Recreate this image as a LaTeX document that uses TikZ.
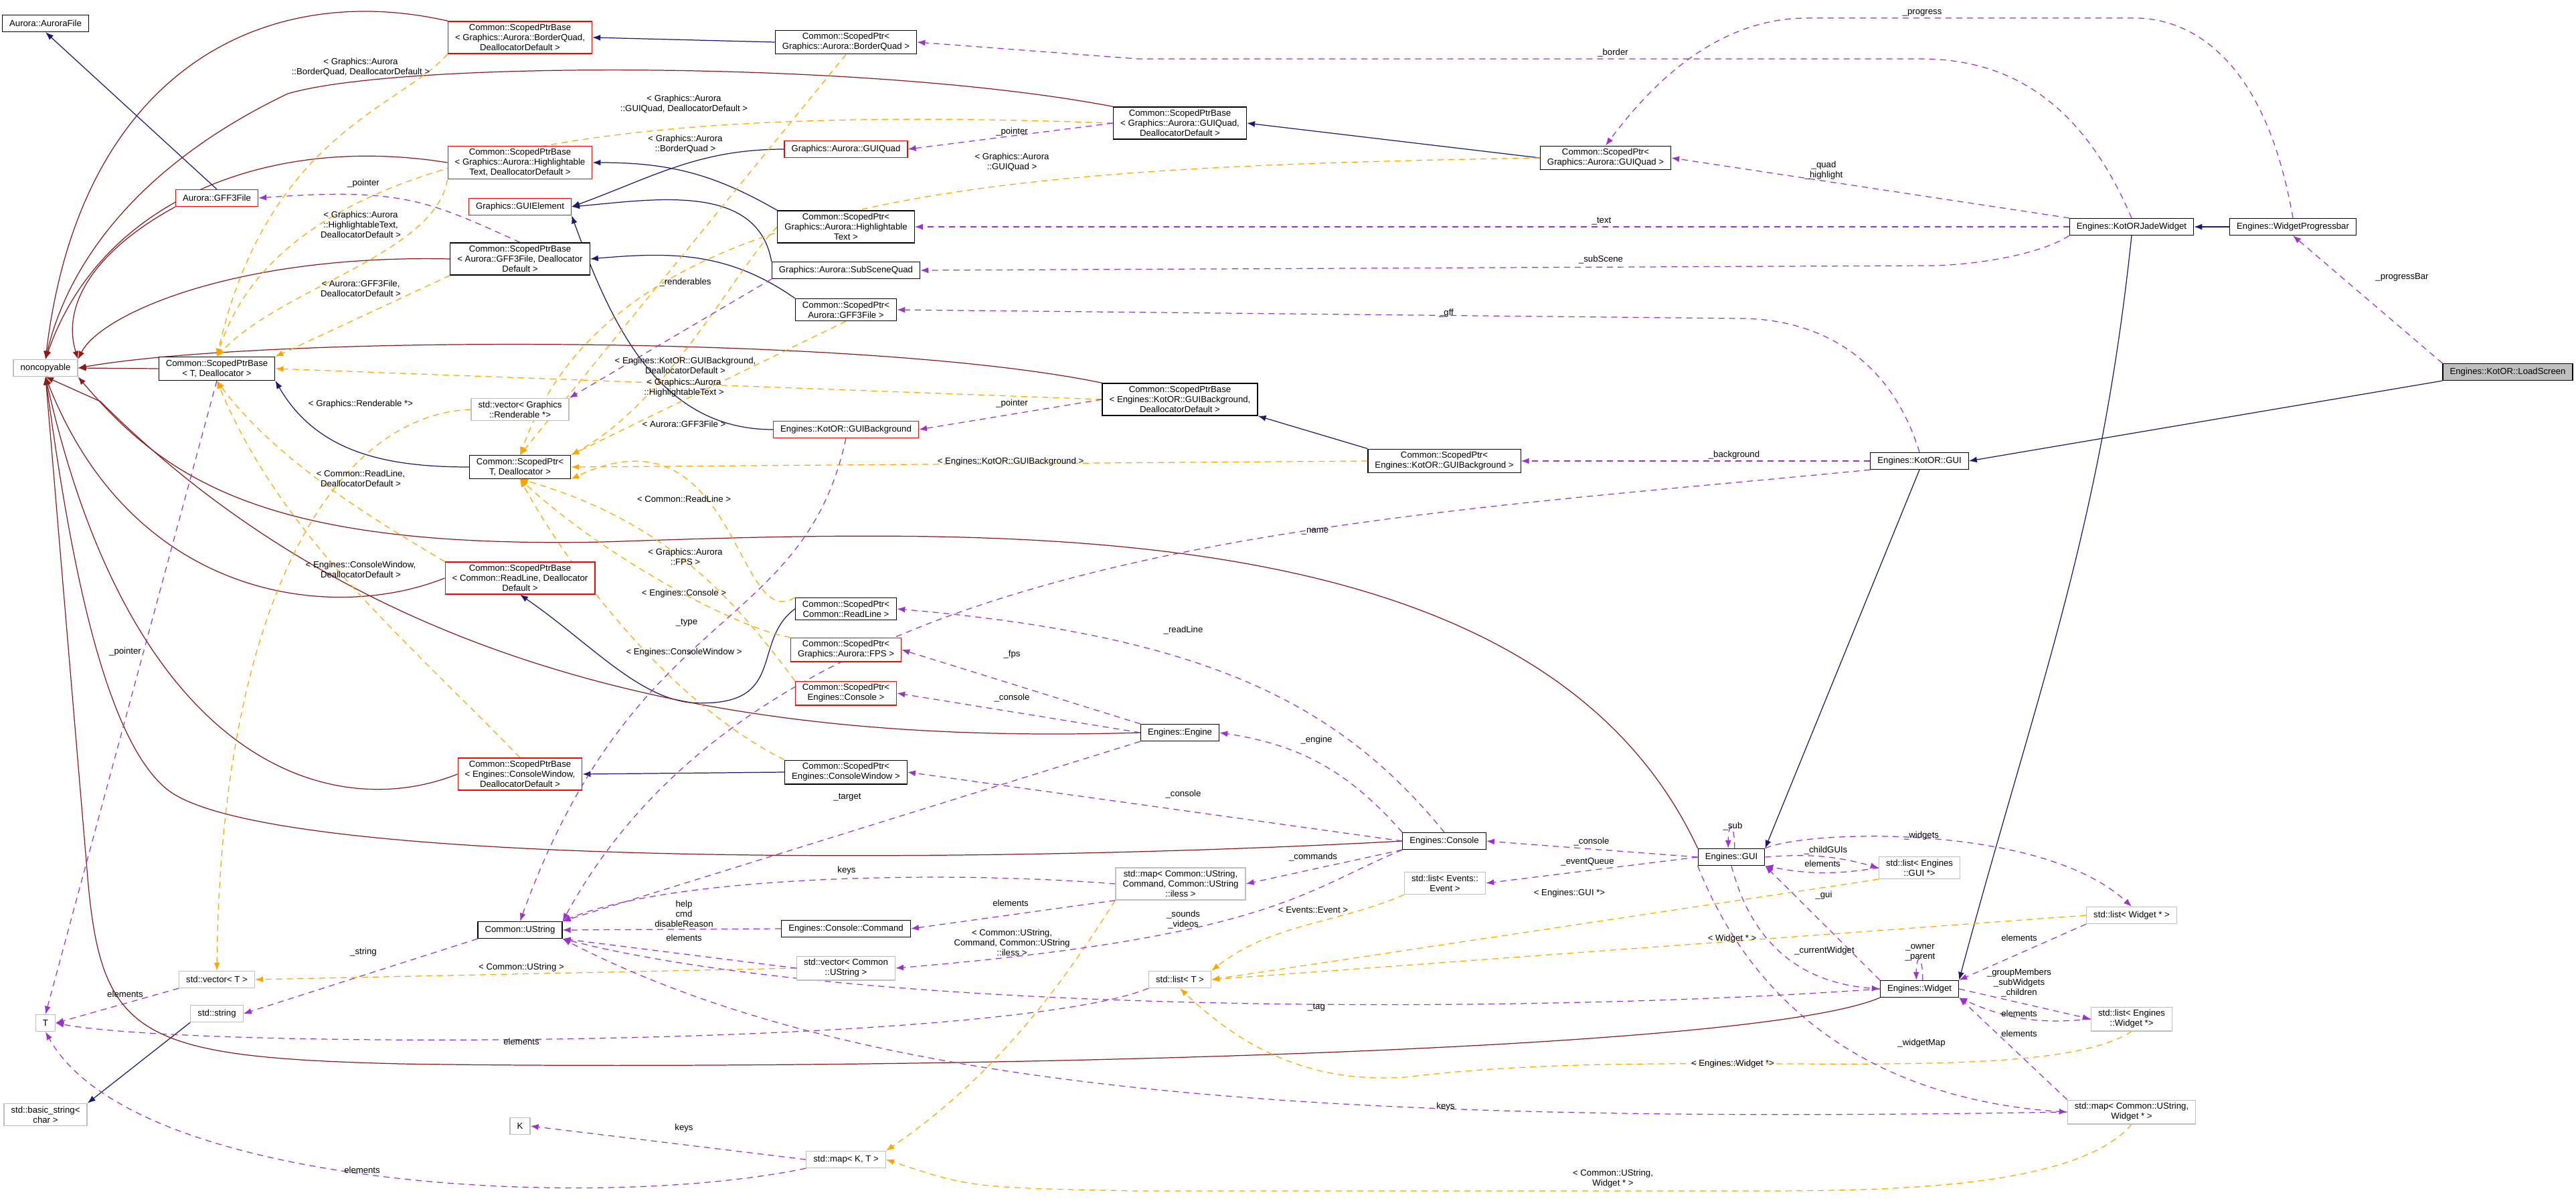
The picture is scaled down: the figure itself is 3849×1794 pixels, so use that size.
\documentclass[tikz,border=0pt]{standalone}
\usepackage{fontspec}
\setmainfont{Liberation Sans}
\usetikzlibrary{arrows.meta}

\definecolor{inhcol}{HTML}{191970}
\definecolor{nccol}{HTML}{8B1A1A}
\definecolor{usecol}{HTML}{9A32CD}
\definecolor{tplcol}{HTML}{FFA500}
\definecolor{greybox}{HTML}{BFBFBF}

\pgfdeclarelayer{edges}
\pgfsetlayers{edges,main}

\tikzset{
  every node/.style={font=\fontsize{3.75}{4.27}\selectfont},
  cls/.style={draw=black, line width=0.35pt, inner xsep=3pt, inner ysep=1.2pt, minimum height=0.25cm, align=center, fill=white},
  redcls/.style={cls, draw=red},
  tpl/.style={cls, draw=greybox},
  lbl/.style={inner sep=0pt, align=center},
  tip/.style={-{Latex[length=1.2mm,width=0.9mm]}},
  inh/.style={tip, draw=inhcol, line width=0.35pt},
  nc/.style={tip, draw=nccol, line width=0.35pt},
  use/.style={tip, draw=usecol, line width=0.35pt, dash pattern=on 0.9mm off 0.7mm},
  tmpl/.style={tip, draw=tplcol, line width=0.35pt, dash pattern=on 0.9mm off 0.7mm},
}

\begin{document}
\begin{tikzpicture}[x=0.01cm, y=-0.01cm]
\useasboundingbox (0,0) rectangle (3849,1794);

% Classes
\node[cls] (auroraFile) at (68,35) {Aurora::AuroraFile};
\node[redcls] (gff3) at (324,296) {Aurora::GFF3File};
\node[redcls] (spbBorder) at (777,56) {Common::ScopedPtrBase\\{}< Graphics::Aurora::BorderQuad,\\DeallocatorDefault >};
\node[redcls] (spbHigh) at (777,243) {Common::ScopedPtrBase\\{}< Graphics::Aurora::Highlightable\\Text, DeallocatorDefault >};
\node[redcls] (guiElem) at (777,309) {Graphics::GUIElement};
\node[cls] (spbGff) at (777,387) {Common::ScopedPtrBase\\{}< Aurora::GFF3File, Deallocator\\Default >};
\node[tpl] (nonc) at (68,550) {noncopyable};
\node[cls] (spbT) at (324,551) {Common::ScopedPtrBase\\{}< T, Deallocator >};
\node[tpl] (vecRend) at (777,612) {std::vector< Graphics\\::Renderable *>};
\node[cls] (spT) at (777,698) {Common::ScopedPtr<\\T, Deallocator >};
\node[redcls] (spbRead) at (777,864) {Common::ScopedPtrBase\\{}< Common::ReadLine, Deallocator\\Default >};
\node[redcls] (spbWin) at (777,1157) {Common::ScopedPtrBase\\{}< Engines::ConsoleWindow,\\DeallocatorDefault >};
\node[cls] (ustring) at (777,1390) {Common::UString};
\node[tpl] (vecT) at (324,1464) {std::vector< T >};
\node[tpl] (stdstr) at (324,1515) {std::string};
\node[tpl] (T) at (68,1529) {T};
\node[tpl] (basicstr) at (68,1666) {std::basic\_string<\\char >};
\node[tpl] (K) at (777,1683) {K};

\node[cls] (spBorder) at (1264,63) {Common::ScopedPtr<\\Graphics::Aurora::BorderQuad >};
\node[redcls] (guiQuad) at (1264,223) {Graphics::Aurora::GUIQuad};
\node[cls] (spHigh) at (1264,339) {Common::ScopedPtr<\\Graphics::Aurora::Highlightable\\Text >};
\node[cls] (subScene) at (1264,404) {Graphics::Aurora::SubSceneQuad};
\node[cls] (spGff) at (1264,463) {Common::ScopedPtr<\\Aurora::GFF3File >};
\node[redcls] (guiBg) at (1264,642) {Engines::KotOR::GUIBackground};
\node[cls] (spRead) at (1264,910) {Common::ScopedPtr<\\Common::ReadLine >};
\node[redcls] (spFps) at (1264,971) {Common::ScopedPtr<\\Graphics::Aurora::FPS >};
\node[redcls] (spCon) at (1264,1036) {Common::ScopedPtr<\\Engines::Console >};
\node[cls] (spWin) at (1264,1154) {Common::ScopedPtr<\\Engines::ConsoleWindow >};
\node[cls] (command) at (1264,1388) {Engines::Console::Command};
\node[tpl] (vecStr) at (1264,1447) {std::vector< Common\\::UString >};
\node[tpl] (mapKT) at (1264,1733) {std::map< K, T >};

\node[cls] (spbQuad) at (1763,184) {Common::ScopedPtrBase\\{}< Graphics::Aurora::GUIQuad,\\DeallocatorDefault >};
\node[cls] (spbBg) at (1763,597) {Common::ScopedPtrBase\\{}< Engines::KotOR::GUIBackground,\\DeallocatorDefault >};
\node[cls] (engine) at (1763,1095) {Engines::Engine};
\node[tpl] (mapCmd) at (1764,1321) {std::map< Common::UString,\\Command, Common::UString\\::iless >};
\node[tpl] (listT) at (1763,1464) {std::list< T >};

\node[cls] (spBg) at (2158,689) {Common::ScopedPtr<\\Engines::KotOR::GUIBackground >};
\node[cls] (console) at (2158,1257) {Engines::Console};
\node[tpl] (listEv) at (2159,1320) {std::list< Events::\\Event >};
\node[cls] (spQuad) at (2399,236) {Common::ScopedPtr<\\Graphics::Aurora::GUIQuad >};

\node[cls] (egui) at (2587,1281) {Engines::GUI};
\node[cls] (kgui) at (2868,689) {Engines::KotOR::GUI};
\node[tpl] (listGui) at (2868,1297) {std::list< Engines\\::GUI *>};
\node[cls] (widget) at (2868,1478) {Engines::Widget};
\node[cls] (jade) at (3185,339) {Engines::KotORJadeWidget};
\node[tpl] (listW) at (3185,1368) {std::list< Widget * >};
\node[tpl] (listEW) at (3185,1523) {std::list< Engines\\::Widget *>};
\node[tpl] (mapW) at (3185,1662) {std::map< Common::UString,\\Widget * >};
\node[cls] (progress) at (3426,339) {Engines::WidgetProgressbar};
\node[cls, fill=greybox] (load) at (3747,556) {Engines::KotOR::LoadScreen};

\begin{pgfonlayer}{edges}
% Inheritance
\draw[inh] (gff3.north) -- (auroraFile.south);
\draw[inh] (spBorder.west) -- (spbBorder.east);
\draw[inh] (spQuad.west) -- (spbQuad.east);
\draw[inh] (spHigh.north west) to[out=150,in=0] (spbHigh.east);
\draw[inh] (guiQuad.west) to[out=180,in=20] (guiElem.east);
\draw[inh] (subScene.north west) to[out=100,in=5] (guiElem.east);
\draw[inh] (guiBg.west) to[out=180,in=-70] (guiElem.south east);
\draw[inh] (spGff.north west) to[out=145,in=5] (spbGff.east);
\draw[inh] (spBg.north west) -- (spbBg.south east);
\draw[inh] (spT.west) to[out=180,in=-60] (spbT.south east);
\draw[inh] (spRead.west) .. controls (1120,960) and (1180,1060) .. (1030,1050) .. controls (950,1040) and (880,960) .. (spbRead.south);
\draw[inh] (spWin.west) -- (spbWin.east);
\draw[inh] (progress.west) -- (jade.east);
\draw[inh] (load.south west) -- (kgui.east);
\draw[inh] (kgui.south) -- (egui.north east);
\draw[inh] (jade.south) to[out=-96,in=75] (widget.north east);
\draw[inh] (stdstr.south west) -- (basicstr.north east);

% noncopyable
\draw[nc] (spbBorder.north west) .. controls (400,-30) and (120,100) .. (nonc.north);
\draw[nc] (spbQuad.north west) .. controls (1300,90) and (600,90) .. (430,140) .. controls (200,250) and (100,400) .. (nonc.north);
\draw[nc] (spbHigh.west) .. controls (400,200) and (150,300) .. (nonc.north);
\draw[nc] (gff3.south west) .. controls (150,370) and (90,450) .. (nonc.north east);
\draw[nc] (spbGff.west) .. controls (350,380) and (150,470) .. (nonc.north east);
\draw[nc] (spbT.west) -- (nonc.east);
\draw[nc] (spbBg.north west) .. controls (1300,500) and (400,500) .. (nonc.east);
\draw[nc] (egui.north west) .. controls (2300,760) and (1500,790) .. (900,810) .. controls (400,820) and (250,720) .. (nonc.south east);
\draw[nc] (spbRead.west) .. controls (500,930) and (200,900) .. (nonc.south);
\draw[nc] (spbWin.west) .. controls (500,1230) and (200,1150) .. (nonc.south);
\draw[nc] (engine.west) .. controls (1200,1110) and (600,1050) .. (150,600) -- (nonc.south);
\draw[nc] (console.west) .. controls (1500,1290) and (400,1300) .. (250,1180) .. controls (150,1100) and (100,800) .. (nonc.south);
\draw[nc] (widget.south west) .. controls (2600,1580) and (1200,1600) .. (600,1590) .. controls (200,1580) and (150,1550) .. (130,1300) -- (nonc.south);

% Template instances
\draw[tmpl] (spbBorder.south west) .. controls (600,160) and (400,200) .. (spbT.north);
\draw[tmpl] (spbQuad.west) .. controls (1000,160) and (430,200) .. (spbT.north);
\draw[tmpl] (spbHigh.south west) .. controls (650,380) and (420,430) .. (spbT.north);
\draw[tmpl] (spbGff.south west) -- (spbT.north east);
\draw[tmpl] (spbBg.west) -- (spbT.east);
\draw[tmpl] (spbRead.north west) .. controls (600,800) and (420,700) .. (spbT.south);
\draw[tmpl] (spbWin.north) .. controls (600,950) and (420,800) .. (spbT.south);
\draw[tmpl] (spBorder.south) -- (spT.north);
\draw[tmpl] (spQuad.west) .. controls (1500,250) and (920,280) .. (spT.north);
\draw[tmpl] (spHigh.west) .. controls (1100,400) and (1000,600) .. (spT.north east);
\draw[tmpl] (spGff.south) -- (spT.north east);
\draw[tmpl] (spBg.west) -- (spT.east);
\draw[tmpl] (spRead.north west) .. controls (1100,950) and (1100,600) .. (spT.south east);
\draw[tmpl] (spFps.north west) .. controls (1100,940) and (900,830) .. (spT.south);
\draw[tmpl] (spCon.north west) .. controls (1100,900) and (1000,780) .. (spT.south);
\draw[tmpl] (spWin.north west) .. controls (1000,1050) and (850,850) .. (spT.south);
\draw[tmpl] (vecRend.west) .. controls (500,620) and (330,900) .. (vecT.north);
\draw[tmpl] (vecStr.west) -- (vecT.east);
\draw[tmpl] (listEv.south west) .. controls (2000,1380) and (1900,1380) .. (listT.north east);
\draw[tmpl] (listGui.south west) -- (listT.east);
\draw[tmpl] (listW.west) -- (listT.east);
\draw[tmpl] (listEW.south) .. controls (3050,1630) and (2500,1560) .. (2100,1610) .. controls (1950,1620) and (1850,1560) .. (listT.south);
\draw[tmpl] (mapCmd.south west) .. controls (1600,1450) and (1500,1600) .. (mapKT.north east);
\draw[tmpl] (mapW.south) .. controls (3100,1780) and (2800,1780) .. (2600,1780) -- (1700,1780) .. controls (1450,1775) .. (mapKT.east);

% Members
\draw[use] (spbGff.north) .. controls (640,300) and (600,280) .. (gff3.east);
\draw[use] (spbQuad.west) -- (guiQuad.east);
\draw[use] (spbBg.west) -- (guiBg.east);
\draw[use] (spbT.south) -- (T.north);
\draw[use] (subScene.south west) -- (vecRend.north east);
\draw[use] (jade.north) .. controls (3110,150) and (3000,88) .. (2870,88) -- (1700,88) -- (spBorder.east);
\draw[use] (jade.north west) -- (spQuad.east);
\draw[use] (progress.north) .. controls (3380,60) and (3250,27) .. (3190,27) -- (2700,27) .. controls (2550,27) and (2450,150) .. (spQuad.north);
\draw[use] (jade.west) -- (spHigh.east);
\draw[use] (jade.south west) .. controls (3050,380) and (2950,397) .. (2880,397) -- (subScene.east);
\draw[use] (kgui.north) .. controls (2820,520) and (2700,476) .. (2600,476) -- (spGff.east);
\draw[use] (kgui.west) -- (spBg.east);
\draw[use] (load.north west) -- (progress.south);
\draw[use] (kgui.south west) .. controls (2000,780) and (1150,810) .. (ustring.north east);
\draw[use] (guiBg.south) .. controls (1200,950) and (950,900) .. (ustring.north);
\draw[use] (console.north) .. controls (2000,1050) and (1800,950) .. (spRead.east);
\draw[use] (engine.north west) -- (spFps.east);
\draw[use] (engine.west) -- (spCon.east);
\draw[use] (console.north west) to[bend right=20] (engine.east);
\draw[use] (console.west) -- (spWin.east);
\draw[use] (engine.south west) -- (ustring.north east);
\draw[use] (console.south west) -- (mapCmd.east);
\draw[use] (console.south west) .. controls (1950,1330) and (1900,1400) .. (vecStr.east);
\draw[use] (egui.west) -- (console.east);
\draw[use] (egui.west) -- (listEv.east);
\draw[use] (mapCmd.west) .. controls (1400,1300) and (1000,1310) .. (ustring.north east);
\draw[use] (mapCmd.south west) -- (command.east);
\draw[use] (command.west) -- (ustring.east);
\draw[use] (vecStr.west) -- (ustring.south east);
\draw[use] (ustring.south west) -- (stdstr.east);
\draw[use] (vecT.south west) -- (T.east);
\draw[use] (listT.south west) .. controls (1500,1565) and (300,1570) .. (T.east);
\draw[use] (mapKT.south west) .. controls (900,1810) and (200,1780) .. (T.south);
\draw[use] (mapKT.west) -- (K.east);
\draw[use] (widget.west) .. controls (2300,1515) and (1300,1520) .. (ustring.south east);
\draw[use] (mapW.west) .. controls (2000,1680) and (1300,1640) .. (ustring.south east);
\draw[use] (egui.70) .. controls +(0,-40) and +(0,-40) .. (egui.110);
\draw[use] (egui.east) to[bend left=10] (listGui.west);
\draw[use] (listGui.west) to[bend left=10] (egui.south east);
\draw[use] (egui.north east) .. controls (2700,1240) and (3050,1230) .. (listW.north);
\draw[use] (widget.north west) -- (egui.south east);
\draw[use] (egui.south) .. controls (2620,1420) and (2700,1470) .. (widget.west);
\draw[use] (egui.south west) .. controls (2650,1580) and (2900,1650) .. (mapW.west);
\draw[use] (widget.70) .. controls +(0,-40) and +(0,-40) .. (widget.110);
\draw[use] (listW.south west) -- (widget.north east);
\draw[use] (widget.east) -- (listEW.west);
\draw[use] (listEW.west) to[bend left=15] (widget.south east);
\draw[use] (mapW.north west) -- (widget.south east);
\end{pgfonlayer}

% Labels
\node[lbl] (lBq) at (539,100) {< Graphics::Aurora\\::BorderQuad, DeallocatorDefault >};
\node[lbl] (lGq) at (1022,155) {< Graphics::Aurora\\::GUIQuad, DeallocatorDefault >};
\node[lbl] (lBq2) at (1024,215) {< Graphics::Aurora\\::BorderQuad >};
\node[lbl] (lPtrA) at (543,274) {\_pointer};
\node[lbl] (lHt) at (539,336) {< Graphics::Aurora\\::HighlightableText,\\DeallocatorDefault >};
\node[lbl] (lGf) at (539,431) {< Aurora::GFF3File,\\DeallocatorDefault >};
\node[lbl] (lRend) at (1024,422) {\_renderables};
\node[lbl] (lBg) at (1024,546) {< Engines::KotOR::GUIBackground,\\DeallocatorDefault >};
\node[lbl] (lHt2) at (1022,580) {< Graphics::Aurora\\::HighlightableText >};
\node[lbl] (lRen2) at (539,604) {< Graphics::Renderable *>};
\node[lbl] (lGf2) at (1022,634) {< Aurora::GFF3File >};
\node[lbl] (lRl) at (539,715) {< Common::ReadLine,\\DeallocatorDefault >};
\node[lbl] (lRl2) at (1022,746) {< Common::ReadLine >};
\node[lbl] (lCw) at (539,851) {< Engines::ConsoleWindow,\\DeallocatorDefault >};
\node[lbl] (lFps) at (1024,832) {< Graphics::Aurora\\::FPS >};
\node[lbl] (lCon) at (1022,887) {< Engines::Console >};
\node[lbl] (lType) at (1026,931) {\_type};
\node[lbl] (lCw2) at (1022,975) {< Engines::ConsoleWindow >};
\node[lbl] (lPtrT) at (187,974) {\_pointer};
\node[lbl] (lTarget) at (1266,1192) {\_target};
\node[lbl] (lKeys) at (1265,1301) {keys};
\node[lbl] (lHelp) at (1022,1366) {help\\cmd\\disableReason};
\node[lbl] (lElStr) at (1022,1402) {elements};
\node[lbl] (lString) at (543,1423) {\_string};
\node[lbl] (lUstr) at (779,1446) {< Common::UString >};
\node[lbl] (lElVec) at (187,1486) {elements};
\node[lbl] (lElList) at (779,1557) {elements};
\node[lbl] (lKeysK) at (1022,1686) {keys};
\node[lbl] (lElMap) at (541,1749) {elements};
\node[lbl] (lPtrQ) at (1512,197) {\_pointer};
\node[lbl] (lGq2) at (1512,242) {< Graphics::Aurora\\::GUIQuad >};
\node[lbl] (lGff) at (2161,468) {\_gff};
\node[lbl] (lPtrB) at (1512,603) {\_pointer};
\node[lbl] (lBg2) at (1510,690) {< Engines::KotOR::GUIBackground >};
\node[lbl] (lName) at (1965,794) {\_name};
\node[lbl] (lProg) at (2872,19) {\_progress};
\node[lbl] (lBorder) at (2410,79) {\_border};
\node[lbl] (lQuad) at (2725,255) {\_quad\\\_highlight};
\node[lbl] (lText) at (2393,331) {\_text};
\node[lbl] (lSub) at (2392,388) {\_subScene};
\node[lbl] (lPbar) at (3589,414) {\_progressBar};
\node[lbl] (lBack) at (2591,680) {\_background};
\node[lbl] (lRead) at (1768,942) {\_readLine};
\node[lbl] (lFps2) at (1512,978) {\_fps};
\node[lbl] (lCon2) at (1512,1043) {\_console};
\node[lbl] (lEng) at (1967,1106) {\_engine};
\node[lbl] (lCon3) at (1768,1187) {\_console};
\node[lbl] (lCmds) at (1962,1281) {\_commands};
\node[lbl] (lElCmd) at (1510,1350) {elements};
\node[lbl] (lSnd) at (1768,1375) {\_sounds\\\_videos};
\node[lbl] (lEv) at (1962,1360) {< Events::Event >};
\node[lbl] (lMapC) at (1512,1409) {< Common::UString,\\Command, Common::UString\\::iless >};
\node[lbl] (lTag) at (1967,1506) {\_tag};
\node[lbl] (lKeysW) at (2160,1654) {keys};
\node[lbl] (lCon4) at (2378,1258) {\_console};
\node[lbl] (lEvq) at (2372,1288) {\_eventQueue};
\node[lbl] (lGuiP) at (2345,1335) {< Engines::GUI *>};
\node[lbl] (lSubG) at (2589,1235) {\_sub};
\node[lbl] (lWid) at (2871,1249) {\_widgets};
\node[lbl] (lChild) at (2728,1271) {\_childGUIs};
\node[lbl] (lElGui) at (2723,1291) {elements};
\node[lbl] (lGui) at (2725,1338) {\_gui};
\node[lbl] (lWp) at (2588,1403) {< Widget * >};
\node[lbl] (lElW) at (3017,1402) {elements};
\node[lbl] (lOwner) at (2869,1424) {\_owner\\\_parent};
\node[lbl] (lCur) at (2726,1421) {\_currentWidget};
\node[lbl] (lGroup) at (3017,1469) {\_groupMembers\\\_subWidgets\\\_children};
\node[lbl] (lElEW) at (3017,1515) {elements};
\node[lbl] (lElMW) at (3017,1545) {elements};
\node[lbl] (lWmap) at (2871,1559) {\_widgetMap};
\node[lbl] (lEWp) at (2589,1590) {< Engines::Widget *>};
\node[lbl] (lMapW) at (2410,1762) {< Common::UString,\\Widget * >};
\end{tikzpicture}
\end{document}
